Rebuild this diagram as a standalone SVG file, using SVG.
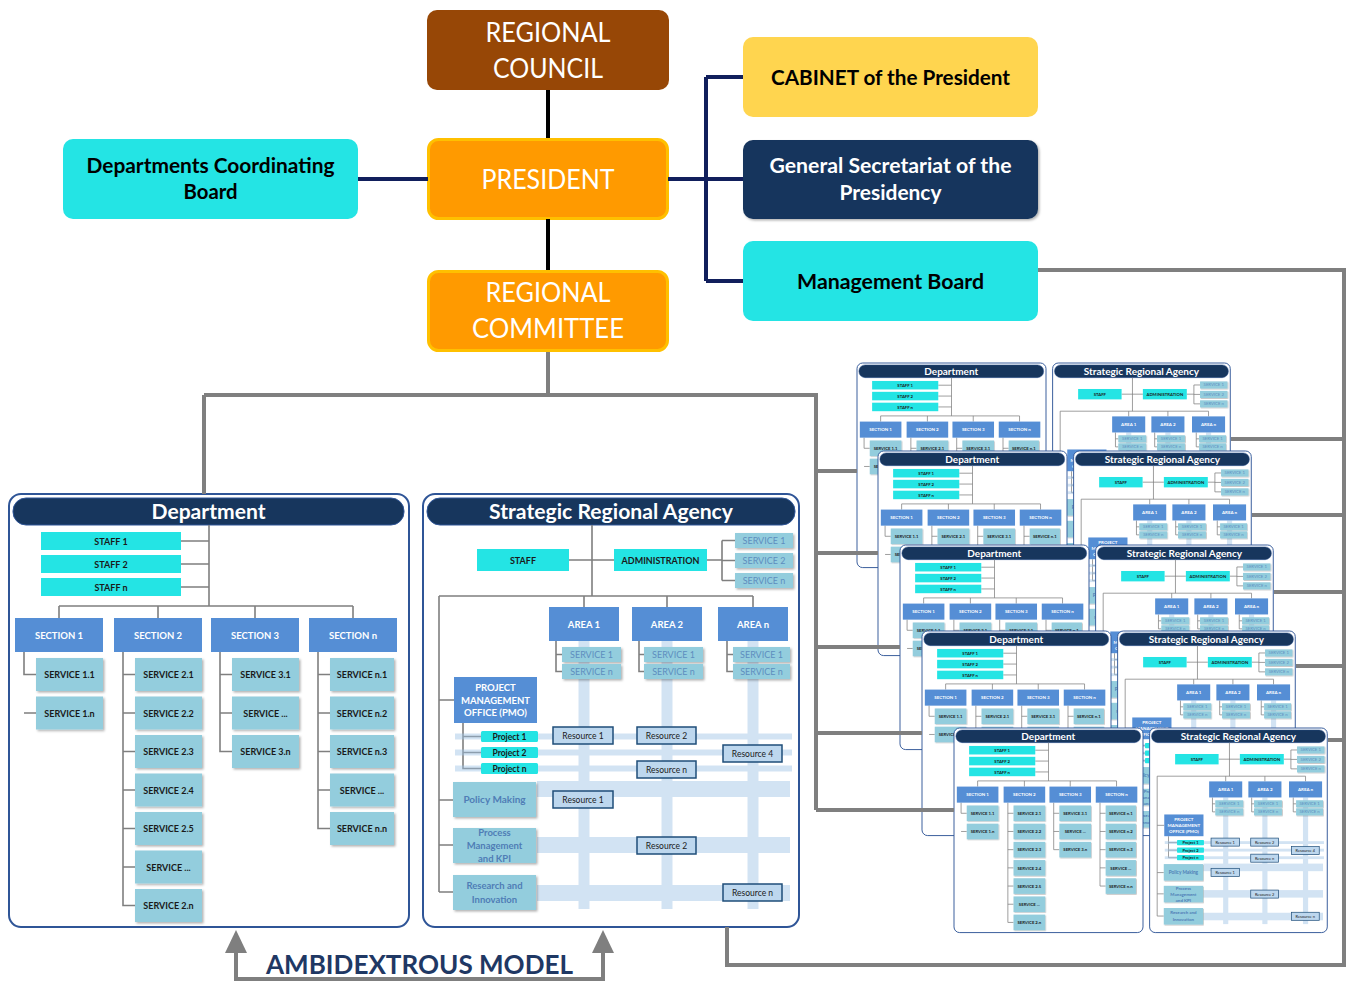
<svg xmlns="http://www.w3.org/2000/svg" width="1348" height="982" viewBox="0 0 1348 982">
<defs>
<style>
text{font-family:Lato,'Open Sans','Liberation Sans',sans-serif;text-anchor:middle}
.hd{font-size:26px;fill:#fff}
.bl{font-weight:bold;font-size:21px;fill:#000}
.ph{font-weight:bold;font-size:21px;fill:#fff}
.frame{fill:#fff;stroke:#2F5597;stroke-width:2}
.hbar{fill:#17365D;stroke:#2F5597;stroke-width:1}
.cy{fill:#24E4E4}
.sec{fill:#558ED5}
.svc{fill:#93CDDD}
.ln{stroke:#7F7F7F;stroke-width:1.6;fill:none}
.t9{font-size:9px;font-weight:bold;fill:#1a1a1a}
.tw{font-size:9.5px;font-weight:bold;fill:#fff}
.tm{font-size:9px;fill:#5E8DBF}
.tp{font-size:10px;font-weight:bold;fill:#4F7DB6}
.band{fill:#9DC3E6;opacity:0.45}
.res{fill:#BDD7EE;stroke:#1F4E79;stroke-width:1.5}
.tr{font-size:8.5px;fill:#1a1a1a}
.nv{stroke:#111F5C;stroke-width:4;fill:none}
.bk{stroke:#000;stroke-width:4;fill:none}
.gr{stroke:#7F7F7F;stroke-width:4;fill:none}
</style>
<filter id="ds" x="-10%" y="-10%" width="130%" height="140%"><feDropShadow dx="1.5" dy="1.5" stdDeviation="1" flood-color="#000" flood-opacity="0.3"/></filter>
</defs>
<rect width="1348" height="982" fill="#fff"/>

<!-- top nodes -->
<g id="regional-council">
<rect x="427" y="10" width="242" height="80" rx="10" fill="#974706"/>
<text class="hd" x="548" y="42" textLength="125" lengthAdjust="spacingAndGlyphs">REGIONAL</text>
<text class="hd" x="548" y="78" textLength="110" lengthAdjust="spacingAndGlyphs">COUNCIL</text>
</g>
<g id="president">
<rect x="428.5" y="139.5" width="239" height="79" rx="10" fill="#FF9A00" stroke="#FFC000" stroke-width="3"/>
<text class="hd" x="548" y="189" textLength="133" lengthAdjust="spacingAndGlyphs">PRESIDENT</text>
</g>
<g id="regional-committee">
<rect x="428.5" y="271.5" width="239" height="79" rx="10" fill="#FF9A00" stroke="#FFC000" stroke-width="3"/>
<text class="hd" x="548" y="302" textLength="125" lengthAdjust="spacingAndGlyphs">REGIONAL</text>
<text class="hd" x="548" y="338" textLength="152" lengthAdjust="spacingAndGlyphs">COMMITTEE</text>
</g>
<g id="departments-coordinating-board">
<rect x="63" y="139" width="295" height="80" rx="10" fill="#24E4E4"/>
<text class="bl" x="210.5" y="173" textLength="248" lengthAdjust="spacingAndGlyphs">Departments Coordinating</text>
<text class="bl" x="210.5" y="199" textLength="54" lengthAdjust="spacingAndGlyphs">Board</text>
</g>
<g id="cabinet">
<rect x="743" y="37" width="295" height="80" rx="10" fill="#FFD54F"/>
<text class="bl" x="890.5" y="85" textLength="239" lengthAdjust="spacingAndGlyphs">CABINET of the President</text>
</g>
<g id="general-secretariat">
<rect x="743" y="140" width="295" height="79" rx="10" fill="#17365D" filter="url(#ds)"/>
<text class="ph" x="890.5" y="173" textLength="242" lengthAdjust="spacingAndGlyphs">General Secretariat of the</text>
<text class="ph" x="890.5" y="200" textLength="102" lengthAdjust="spacingAndGlyphs">Presidency</text>
</g>
<g id="management-board">
<rect x="743" y="241" width="295" height="80" rx="10" fill="#24E4E4"/>
<text class="bl" x="890.5" y="289" textLength="187" lengthAdjust="spacingAndGlyphs">Management Board</text>
</g>

<!-- Department panel -->
<g id="department">
<rect class="frame" x="9" y="494" width="400" height="433" rx="12"/>
<rect class="hbar" x="13" y="498" width="391" height="27" rx="13"/>
<text class="ph" x="208.5" y="519" textLength="114" lengthAdjust="spacingAndGlyphs">Department</text>
<path class="ln" d="M209 525V606M181 541H209M181 564H209M181 587H209M59 606H353M59 606V618M158 606V618M255 606V618M353 606V618"/>
<path class="ln" d="M24 652V674.5H36M24 713H36M123 652V905.5H135M123 674.5H135M123 713H135M123 751.5H135M123 790H135M123 828.5H135M123 867H135M220 652V751.5H232M220 674.5H232M220 713H232M318 652V828.5H330M318 674.5H330M318 713H330M318 751.5H330M318 790H330"/>
<g class="cy"><rect x="41" y="532" width="140" height="18"/><rect x="41" y="555" width="140" height="18"/><rect x="41" y="578" width="140" height="18"/></g>
<text class="t9" x="111" y="544.5">STAFF 1</text><text class="t9" x="111" y="567.5">STAFF 2</text><text class="t9" x="111" y="590.5">STAFF n</text>
<g class="sec"><rect x="15" y="618" width="88" height="34"/><rect x="114" y="618" width="88" height="34"/><rect x="211" y="618" width="88" height="34"/><rect x="309" y="618" width="88" height="34"/></g>
<text class="tw" x="59" y="638.5">SECTION 1</text><text class="tw" x="158" y="638.5">SECTION 2</text><text class="tw" x="255" y="638.5">SECTION 3</text><text class="tw" x="353" y="638.5">SECTION n</text>
<g class="svc" filter="url(#ds)">
<rect x="36" y="658" width="67" height="33"/><rect x="36" y="696.5" width="67" height="33"/>
<rect x="135" y="658" width="67" height="33"/><rect x="135" y="696.5" width="67" height="33"/><rect x="135" y="735" width="67" height="33"/><rect x="135" y="773.5" width="67" height="33"/><rect x="135" y="812" width="67" height="33"/><rect x="135" y="850.5" width="67" height="33"/><rect x="135" y="889" width="67" height="33"/>
<rect x="232" y="658" width="67" height="33"/><rect x="232" y="696.5" width="67" height="33"/><rect x="232" y="735" width="67" height="33"/>
<rect x="330" y="658" width="64" height="33"/><rect x="330" y="696.5" width="64" height="33"/><rect x="330" y="735" width="64" height="33"/><rect x="330" y="773.5" width="64" height="33"/><rect x="330" y="812" width="64" height="33"/>
</g>
<g class="t9">
<text x="69.5" y="678">SERVICE 1.1</text><text x="69.5" y="716.5">SERVICE 1.n</text>
<text x="168.5" y="678">SERVICE 2.1</text><text x="168.5" y="716.5">SERVICE 2.2</text><text x="168.5" y="755">SERVICE 2.3</text><text x="168.5" y="793.5">SERVICE 2.4</text><text x="168.5" y="832">SERVICE 2.5</text><text x="168.5" y="870.5">SERVICE ...</text><text x="168.5" y="909">SERVICE 2.n</text>
<text x="265.5" y="678">SERVICE 3.1</text><text x="265.5" y="716.5">SERVICE ...</text><text x="265.5" y="755">SERVICE 3.n</text>
<text x="362" y="678">SERVICE n.1</text><text x="362" y="716.5">SERVICE n.2</text><text x="362" y="755">SERVICE n.3</text><text x="362" y="793.5">SERVICE ...</text><text x="362" y="832">SERVICE n.n</text>
</g>
</g>

<!-- Strategic Regional Agency panel -->
<g id="agency">
<rect class="frame" x="423" y="494" width="376" height="433" rx="12"/>
<rect class="hbar" x="427" y="498" width="368" height="27" rx="13"/>
<text class="ph" x="611" y="519" textLength="244" lengthAdjust="spacingAndGlyphs">Strategic Regional Agency</text>
<path class="ln" d="M592 525V596M569 560H614M707 560H722M722 540.5V580.5M722 540.5H735M722 560.5H735M722 580.5H735M439 596H753M584 596V607M667 596V607M753 596V607M439 596V892M439 700H454M439 800H453M439 845H453M439 892H453"/>
<path class="ln" d="M556 641V671.5H562M556 654.5H562M639 641V671.5H644M639 654.5H644M727 641V671.5H733M727 654.5H733M463 723V768.5H481M463 736.5H481M463 752.5H481"/>
<g class="band">
<rect x="578.5" y="641" width="11" height="268"/><rect x="661.5" y="641" width="11" height="268"/><rect x="747.5" y="641" width="11" height="268"/>
<rect x="455" y="733.5" width="337" height="6"/><rect x="455" y="749.5" width="337" height="6"/><rect x="455" y="765.5" width="337" height="6"/>
<rect x="537" y="781" width="253" height="16"/><rect x="537" y="837" width="253" height="16"/><rect x="537" y="885" width="253" height="16"/>
</g>
<g class="cy"><rect x="477" y="549" width="92" height="22"/><rect x="614" y="549" width="93" height="22"/></g>
<text class="t9" x="523" y="563.5">STAFF</text><text class="t9" x="660.5" y="563.5">ADMINISTRATION</text>
<g class="svc" filter="url(#ds)">
<rect x="735" y="533" width="58" height="15"/><rect x="735" y="553" width="58" height="15"/><rect x="735" y="573" width="58" height="15"/>
<rect x="562" y="647" width="59" height="15"/><rect x="562" y="664" width="59" height="15"/>
<rect x="644" y="647" width="59" height="15"/><rect x="644" y="664" width="59" height="15"/>
<rect x="733" y="647" width="57" height="15"/><rect x="733" y="664" width="57" height="15"/>
<rect x="453" y="782" width="83" height="35"/><rect x="453" y="828" width="83" height="35"/><rect x="453" y="875" width="83" height="35"/>
</g>
<g class="tm">
<text x="764" y="543.5">SERVICE 1</text><text x="764" y="563.5">SERVICE 2</text><text x="764" y="583.5">SERVICE n</text>
<text x="591.5" y="657.5">SERVICE 1</text><text x="591.5" y="674.5">SERVICE n</text>
<text x="673.5" y="657.5">SERVICE 1</text><text x="673.5" y="674.5">SERVICE n</text>
<text x="761.5" y="657.5">SERVICE 1</text><text x="761.5" y="674.5">SERVICE n</text>
</g>
<g class="sec"><rect x="549" y="607" width="70" height="34"/><rect x="632" y="607" width="70" height="34"/><rect x="718" y="607" width="70" height="34"/><rect x="454" y="677" width="83" height="46"/></g>
<text class="tw" x="584" y="627.5">AREA 1</text><text class="tw" x="667" y="627.5">AREA 2</text><text class="tw" x="753" y="627.5">AREA n</text>
<text class="tw" x="495.5" y="691">PROJECT</text><text class="tw" x="495.5" y="703.5">MANAGEMENT</text><text class="tw" x="495.5" y="716">OFFICE (PMO)</text>
<g class="cy"><rect x="481" y="731" width="57" height="11" rx="1.5"/><rect x="481" y="747" width="57" height="11" rx="1.5"/><rect x="481" y="763" width="57" height="11" rx="1.5"/></g>
<g class="t9" style="font-size:8.5px"><text x="509.5" y="739.5">Project 1</text><text x="509.5" y="755.5">Project 2</text><text x="509.5" y="771.5">Project n</text></g>
<g class="tp">
<text x="494.5" y="803">Policy Making</text>
<text x="494.5" y="836" style="font-size:9.5px">Process</text><text x="494.5" y="849" style="font-size:9.5px">Management</text><text x="494.5" y="861.5" style="font-size:9.5px">and KPI</text>
<text x="494.5" y="888.5" style="font-size:9.5px">Research and</text><text x="494.5" y="902.5" style="font-size:9.5px">Innovation</text>
</g>
<g class="res">
<rect x="553" y="727" width="60" height="17"/><rect x="637" y="727" width="59" height="17"/><rect x="723" y="745" width="59" height="17"/><rect x="637" y="761" width="59" height="17"/>
<rect x="553" y="791" width="60" height="17"/><rect x="637" y="837" width="59" height="17"/><rect x="723" y="884" width="59" height="17"/>
</g>
<g class="tr">
<text x="583" y="738.8">Resource 1</text><text x="666.5" y="738.8">Resource 2</text><text x="752.5" y="756.8">Resource 4</text><text x="666.5" y="772.8">Resource n</text>
<text x="583" y="802.8">Resource 1</text><text x="666.5" y="848.8">Resource 2</text><text x="752.5" y="895.8">Resource n</text>
</g>
</g>

<!-- replicated departments and agencies -->
<g id="replicas">
<use href="#department" transform="translate(857,363) scale(0.4725) translate(-9,-494)"/>
<use href="#agency" transform="translate(857,363) scale(0.4725) translate(-9,-494)"/>
<use href="#department" transform="translate(878,451) scale(0.4725) translate(-9,-494)"/>
<use href="#agency" transform="translate(878,451) scale(0.4725) translate(-9,-494)"/>
<use href="#department" transform="translate(900,545) scale(0.4725) translate(-9,-494)"/>
<use href="#agency" transform="translate(900,545) scale(0.4725) translate(-9,-494)"/>
<use href="#department" transform="translate(922,631) scale(0.4725) translate(-9,-494)"/>
<use href="#agency" transform="translate(922,631) scale(0.4725) translate(-9,-494)"/>
<use href="#department" transform="translate(954,728) scale(0.4725) translate(-9,-494)"/>
<use href="#agency" transform="translate(954,728) scale(0.4725) translate(-9,-494)"/>
</g>

<!-- connectors -->
<g id="connectors">
<path class="bk" d="M548 90V138M548 219V270"/>
<path class="nv" d="M358 179H428M668 179H706M706 77V281M706 77H743M706 179H743M706 281H743"/>
<path class="gr" d="M548 352V395M204 395H816M204 395V494M816 393V810M816 471H857M816 553H878M816 647H900M816 733H922M816 810H954"/>
<path class="gr" d="M1038 270H1344V965H727V927M1344 439H1231M1344 515H1252M1344 592H1274M1344 666H1296M1344 740H1328"/>
</g>

<!-- ambidextrous model -->
<g id="ambidextrous-model">
<path class="gr" d="M236 950V979H603V950"/>
<polygon points="236,930 225,953 247,953" fill="#7F7F7F"/>
<polygon points="603,930 592,953 614,953" fill="#7F7F7F"/>
<text x="419.5" y="974" style="font-size:27px;font-weight:bold;fill:#1F3864" textLength="307" lengthAdjust="spacingAndGlyphs">AMBIDEXTROUS MODEL</text>
</g>
</svg>
